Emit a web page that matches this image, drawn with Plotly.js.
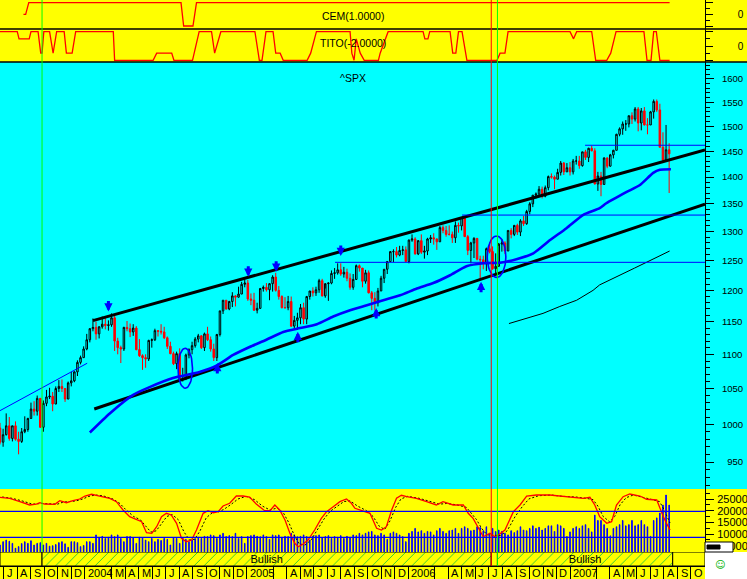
<!DOCTYPE html>
<html><head><meta charset="utf-8">
<script src="https://cdn.plot.ly/plotly-3.0.1.min.js"></script>
<style>html,body{margin:0;padding:0;background:#fff}#chart{width:747px;height:579px}</style>
</head><body><div id="chart"></div>
<script>
// ---------------- DATA ----------------
const firstWeek = '2003-06-23'; // Monday of first weekly bar
const open2003 = [995,976,986,998,981,998,980,977,990,993,1008,1021,1018,1036,996,1029,1038,1039,1028,1050,1053,1050,1035,1058,1061,1074,1088,1095];
const high2003 = [1002,994,1015,1010,998,1004,990,995,1011,1009,1030,1032,1040,1036,1033,1048,1051,1045,1053,1062,1063,1050,1060,1074,1075,1091,1098,1112];
const low2003  = [973,970,985,978,977,978,960,975,988,990,1008,1012,1012,995,990,1025,1035,1018,1028,1045,1045,1031,1035,1053,1059,1068,1085,1095];
const close2003= [976,986,998,981,998,980,977,990,993,1008,1021,1018,1036,996,1029,1038,1039,1028,1050,1053,1050,1035,1058,1061,1074,1088,1095,1108];
const open2004 = [1108,1122,1139,1141,1131,1142,1146,1144,1145,1156,1120,1110,1108,1141,1139,1134,1140,1107,1098,1095,1093,1121,1122,1136,1135,1134,1125,1112,1101,1086,1101,1063,1064,1099,1107,1113,1123,1128,1110,1131,1122,1108,1095,1130,1167,1184,1170,1182,1191,1189,1194,1210];
const high2004 = [1131,1140,1155,1150,1143,1158,1158,1152,1163,1160,1125,1113,1142,1151,1147,1146,1143,1123,1100,1100,1122,1124,1139,1137,1146,1142,1127,1119,1104,1104,1109,1080,1101,1109,1119,1126,1131,1129,1133,1142,1127,1116,1131,1167,1184,1184,1183,1197,1192,1206,1214,1218];
const low2004  = [1106,1118,1135,1122,1124,1139,1138,1136,1142,1105,1100,1087,1105,1135,1126,1128,1106,1096,1077,1080,1090,1110,1120,1127,1130,1123,1108,1100,1084,1078,1060,1060,1062,1094,1100,1110,1118,1108,1105,1120,1104,1090,1090,1127,1162,1169,1168,1173,1174,1188,1194,1205];
const close2004= [1122,1139,1141,1131,1142,1146,1144,1145,1156,1120,1110,1108,1141,1139,1134,1140,1107,1098,1095,1093,1121,1122,1136,1135,1134,1125,1112,1101,1086,1101,1063,1064,1099,1107,1113,1123,1128,1110,1131,1122,1108,1095,1130,1167,1184,1170,1182,1191,1189,1194,1210,1212];
const open2005 = [1212,1186,1184,1168,1171,1203,1205,1201,1211,1222,1200,1190,1172,1172,1182,1143,1152,1156,1172,1154,1190,1199,1196,1201,1216,1191,1211,1212,1228,1229,1234,1227,1230,1220,1205,1218,1241,1237,1215,1229,1196,1187,1180,1199,1220,1235,1248,1265,1265,1259,1267,1268];
const high2005 = [1217,1195,1196,1180,1204,1208,1212,1212,1225,1229,1207,1192,1189,1191,1190,1159,1164,1178,1180,1191,1199,1205,1206,1219,1219,1203,1213,1233,1237,1245,1245,1239,1236,1228,1227,1243,1243,1237,1234,1233,1199,1197,1204,1224,1235,1249,1266,1269,1273,1275,1275,1274];
const low2005  = [1183,1176,1167,1163,1170,1198,1198,1184,1198,1198,1185,1171,1171,1168,1142,1137,1137,1146,1146,1146,1185,1190,1191,1196,1190,1188,1183,1210,1219,1226,1224,1221,1215,1201,1201,1217,1231,1205,1211,1195,1168,1168,1174,1199,1212,1227,1248,1247,1255,1257,1259,1248];
const close2005= [1186,1184,1168,1171,1203,1205,1201,1211,1222,1200,1190,1172,1172,1182,1143,1152,1156,1172,1154,1190,1199,1196,1201,1216,1191,1211,1212,1228,1229,1234,1227,1230,1220,1205,1218,1241,1237,1215,1229,1196,1187,1180,1199,1220,1235,1248,1265,1265,1259,1267,1268,1248];
const open2006 = [1248,1285,1287,1261,1284,1264,1266,1287,1289,1287,1282,1307,1302,1295,1295,1289,1311,1310,1325,1291,1267,1280,1288,1252,1251,1244,1270,1265,1236,1240,1278,1280,1266,1302,1295,1311,1299,1319,1314,1336,1350,1366,1368,1377,1364,1380,1401,1400,1396,1409,1427,1410];
const high2006 = [1286,1295,1290,1285,1295,1275,1289,1294,1297,1288,1310,1311,1310,1311,1300,1318,1316,1326,1326,1294,1282,1290,1288,1258,1258,1272,1281,1274,1262,1280,1287,1283,1302,1306,1311,1314,1322,1328,1339,1353,1366,1371,1383,1382,1384,1403,1407,1403,1416,1431,1429,1427];
const low2006  = [1245,1282,1260,1259,1261,1253,1259,1280,1277,1268,1282,1297,1291,1293,1280,1280,1298,1302,1291,1259,1245,1254,1250,1219,1235,1232,1262,1234,1224,1240,1265,1261,1266,1288,1292,1294,1292,1310,1312,1331,1344,1360,1365,1360,1362,1375,1397,1377,1396,1403,1404,1410];
const close2006= [1285,1287,1261,1284,1264,1266,1287,1289,1287,1282,1307,1302,1295,1295,1289,1311,1310,1325,1291,1267,1280,1288,1252,1251,1244,1270,1265,1236,1240,1278,1280,1266,1302,1295,1311,1299,1319,1314,1336,1350,1366,1368,1377,1364,1380,1401,1400,1396,1409,1427,1410,1418];
const open2007 = [1418,1410,1431,1431,1422,1449,1438,1456,1451,1387,1402,1386,1437,1421,1443,1452,1484,1495,1505,1505,1522,1515,1536,1507,1532,1503,1503,1530,1552,1534,1458,1433,1453];
const high2007 = [1429,1435,1441,1441,1449,1453,1457,1461,1456,1410,1410,1438,1438,1445,1453,1485,1498,1510,1513,1522,1529,1540,1540,1538,1540,1517,1532,1556,1556,1547,1488,1503,1466];
const low2007  = [1403,1405,1424,1416,1420,1433,1429,1450,1386,1374,1364,1386,1417,1420,1436,1452,1480,1483,1491,1498,1505,1510,1490,1492,1502,1484,1503,1516,1530,1458,1427,1429,1370];
const close2007= [1410,1431,1431,1422,1449,1438,1456,1451,1387,1402,1386,1437,1421,1443,1452,1484,1495,1505,1505,1522,1515,1536,1507,1532,1503,1503,1530,1552,1534,1458,1433,1453,1445];

const vol2003 = [5300,6700,7400,6900,6000,3900,4600,5900,6700,6000,7100,5300,6000,6300,5300,6000,4800,5000,5500,6300,6700,5800,4300,6700,6700,6300,4600,5100];
const vol2004 = [6700,6700,6000,9600,8400,9000,8100,8600,9600,8900,9600,8100,6700,8900,8900,8400,6000,8600,8400,7400,6700,8100,6700,7700,7200,8100,7700,5300,8400,8100,6000,8400,7700,6700,7400,8000,8600,8100,9000,8900,9600,9300,8100,9600,10300,8900,9300,8900,10300,8100,8900,6000];
const vol2005 = [8900,9300,9600,9000,8800,9600,8900,7700,9600,9300,9600,8600,9000,8900,10300,9600,8800,9000,9600,8900,7400,9000,9300,9600,8400,8900,9300,8100,8900,8600,9300,8100,9000,8600,9600,9300,10300,9600,10300,10900,11100,9600,9300,10300,9600,7700,10300,10900,10300,9600,8900,6700];
const vol2006 = [10300,11100,12400,10900,11400,10300,11100,10900,9600,11400,12400,11100,10300,11400,11700,12400,10300,12400,13100,12400,11400,11700,13100,12800,11400,13100,10300,12400,11100,11700,11100,10300,9600,11400,10600,11400,13100,11700,11400,12400,13500,12400,12900,11700,12400,13500,13500,11100,14000,13500,12400,8900];
const vol2007 = [10900,12400,13100,12400,13500,14000,12400,10900,18100,15800,15800,14000,12400,9200,12400,13100,14000,15800,13500,14000,15800,13500,14000,15800,14000,13100,9000,15800,16900,19000,22400,26700,22400];

// moving average (thick blue)
const maDates = ['2004-01-12','2004-02-26','2004-04-19','2004-05-26','2004-07-18','2004-09-16','2004-10-24','2004-12-01','2005-01-07','2005-02-14','2005-03-24','2005-05-01','2005-06-08','2005-07-15','2005-08-22','2005-09-29','2005-11-05','2005-12-13','2006-01-20','2006-02-26','2006-04-05','2006-05-12','2006-06-19','2006-07-27','2006-09-02','2006-10-10','2006-11-17','2006-12-24','2007-01-31','2007-03-09','2007-03-24','2007-05-09','2007-06-08','2007-07-08','2007-07-23','2007-08-17'];
const maVals  = [989,1015,1041,1052,1065,1074,1083,1099,1111,1122,1134,1140,1146,1158,1168,1176,1184,1192,1203,1212,1225,1240,1245,1246,1252,1262,1285,1306,1330,1342,1351,1372,1385,1408,1414,1415];
// long average (thin black)
const lmaDates = ['2006-08-16','2006-09-25','2006-11-01','2006-12-09','2007-01-16','2007-02-22','2007-03-09','2007-05-27','2007-08-14'];
const lmaVals  = [1147,1155,1163,1174,1184,1200,1209,1237,1266];
// trend lines
const upperTrendDates = ['2004-01-19','2007-11-02'], upperTrendVals = [1151.6,1452.6];
const lowerTrendDates = ['2004-01-22','2007-11-02'], lowerTrendVals = [1021.1,1349.5];
const blueTrendDates  = ['2003-06-23','2004-01-06'], blueTrendVals  = [1018.8,1086.7];
const levelVals   = [1246.7,1329.5,1462];
const levelStarts = ['2005-07-19','2006-05-02','2007-02-04'];
const levelEnd    = '2007-11-02';
// ellipses
const ellipseX0 = ['2004-07-29','2006-06-28'], ellipseX1 = ['2004-08-31','2006-08-09'];
const ellipseLo = [1050.3,1221.4], ellipseHi = [1109,1292.1];
// arrows
const downArrowDates = ['2004-02-23','2005-01-04','2005-03-08','2005-08-01'];
const downArrowVals  = [1165.8,1222.5,1230.8,1257.4];
const upArrowDates   = ['2004-10-26','2005-04-26','2005-10-20','2006-06-14'];
const upArrowVals    = [1087,1134.3,1171.5,1214.1];

// CEM indicator
const cemDates = ['2003-08-15','2003-08-20','2003-08-27','2004-08-05','2004-08-11','2004-09-01','2004-09-09','2007-08-14'];
const cemVals  = [0,0,1,1,-1,-1,1,1];
// TITO indicator
const titoDates = ['2003-06-23','2003-08-01','2003-08-05','2003-08-28','2003-09-01','2003-09-17','2003-09-23','2003-09-26','2003-09-30','2003-10-13','2003-10-21','2003-10-29','2003-11-15','2003-11-20','2003-12-03','2003-12-11','2004-03-05','2004-03-08','2004-06-03','2004-06-11','2004-07-15','2004-07-20','2004-08-31','2004-09-15','2004-10-13','2004-10-20','2004-11-03','2005-01-19','2005-01-29','2005-02-04','2005-02-13','2005-03-01','2005-03-07','2005-03-17','2005-03-24','2005-05-17','2005-05-25','2005-06-07','2005-08-22','2005-08-26','2005-08-31','2005-09-05','2005-09-14','2005-09-23','2005-10-25','2005-10-29','2005-11-16','2006-02-03','2006-02-07','2006-02-14','2006-02-18','2006-04-05','2006-04-11','2006-04-18','2006-04-24','2006-05-02','2006-05-13','2006-07-20','2006-07-27','2006-08-07','2006-08-14','2007-01-01','2007-01-09','2007-01-16','2007-02-19','2007-02-28','2007-03-25','2007-04-03','2007-04-15','2007-06-17','2007-06-24','2007-07-03','2007-07-09','2007-07-15','2007-07-23','2007-08-14'];
const titoVals = [2,2,1,1,2,2,-1,-1,2,2,-1,2,2,-1,-1,2,2,-2,-2,-1,-1,-2,-2,2,2,-1,2,2,-2,-2,2,2,-1,-1,-2,-2,-1,2,2,-1,-2,1,-1,-2,-2,-1,2,2,1,1,2,2,-1,-1,2,2,-2,-2,-1,-1,2,2,1,2,2,-2,-2,-1,2,2,-2,-2,2,2,-2,-2];

// stochastic %K (red) and %D (black dotted)
const stochKDates = ['2003-06-23','2003-07-15','2003-08-07','2003-08-29','2003-09-13','2003-09-21','2003-10-02','2003-10-25','2003-11-05','2003-11-20','2003-12-05','2003-12-20','2004-01-01','2004-01-16','2004-02-03','2004-02-26','2004-03-12','2004-03-27','2004-04-11','2004-04-26','2004-05-08','2004-05-19','2004-05-31','2004-06-11','2004-06-22','2004-07-03','2004-07-14','2004-07-26','2004-08-06','2004-08-17','2004-08-29','2004-09-09','2004-09-24','2004-10-05','2004-10-17','2004-10-28','2004-11-08','2004-11-23','2004-12-08','2004-12-23','2005-01-07','2005-01-22','2005-02-10','2005-02-22','2005-03-05','2005-03-16','2005-03-28','2005-04-08','2005-04-19','2005-04-27','2005-05-08','2005-05-19','2005-06-03','2005-06-18','2005-06-30','2005-07-15','2005-07-30','2005-08-14','2005-08-25','2005-09-02','2005-09-21','2005-10-06','2005-10-21','2005-11-01','2005-11-12','2005-11-24','2005-12-05','2005-12-16','2005-12-28','2006-01-19','2006-02-11','2006-03-05','2006-03-20','2006-04-12','2006-05-05','2006-05-16','2006-05-27','2006-06-07','2006-06-19','2006-07-04','2006-07-15','2006-07-26','2006-08-07','2006-08-26','2006-09-10','2006-09-25','2006-10-17','2006-11-16','2006-12-09','2007-01-08','2007-01-31','2007-02-15','2007-02-26','2007-03-09','2007-03-25','2007-04-05','2007-04-16','2007-05-01','2007-05-16','2007-06-08','2007-06-23','2007-07-16','2007-07-23','2007-07-31','2007-08-07','2007-08-15'];
const stochKVals = [91.5,90,84.8,79.7,81.2,83.2,81.2,80.8,86.3,83.2,86.3,88.9,93.5,96.2,93.5,90,84.8,72,61.7,57.7,54,37.1,36.2,46.3,61.7,66.9,64.3,51.5,28.5,23.2,25.8,41.2,66.9,70.9,67.8,69.4,78.2,82.3,93.5,93.5,92,81.2,70.9,70.9,79.7,72,56.6,36.2,20.8,15.5,19.7,25.8,41.2,59.2,69.4,77.1,84.8,88.9,82.3,74.6,70.9,66.9,43.8,41.2,46.3,72,90,94.6,92.5,90,84.8,79.7,84.8,79.7,79.7,66.9,59.2,46.3,30.9,36.2,30.9,35,41.2,69.4,79.7,93.5,95.1,95.1,93.5,92.5,90,91.5,79.7,61.7,51.5,54,79.7,92.5,96.6,93.5,88.5,87.4,74.6,61.7,51.5,41.2];
const stochDDates = ['2003-06-28','2003-07-20','2003-08-12','2003-09-04','2003-09-25','2003-10-10','2003-10-31','2003-11-12','2003-11-28','2003-12-12','2003-12-27','2004-01-10','2004-01-24','2004-02-10','2004-03-04','2004-03-20','2004-04-03','2004-04-20','2004-05-05','2004-05-18','2004-05-29','2004-06-10','2004-06-22','2004-07-04','2004-07-16','2004-07-30','2004-08-12','2004-08-24','2004-09-05','2004-09-17','2004-10-01','2004-10-15','2004-10-28','2004-11-10','2004-11-25','2004-12-12','2004-12-30','2005-01-18','2005-02-05','2005-02-22','2005-03-10','2005-03-24','2005-04-06','2005-04-18','2005-04-29','2005-05-12','2005-05-26','2005-06-09','2005-06-24','2005-07-08','2005-07-24','2005-08-08','2005-08-22','2005-09-08','2005-09-28','2005-10-13','2005-10-27','2005-11-08','2005-11-20','2005-12-03','2005-12-15','2005-12-30','2006-01-25','2006-02-18','2006-03-12','2006-03-28','2006-04-20','2006-05-12','2006-05-24','2006-06-04','2006-06-15','2006-06-27','2006-07-12','2006-07-28','2006-08-12','2006-08-30','2006-09-15','2006-09-30','2006-10-22','2006-11-20','2006-12-15','2007-01-14','2007-02-06','2007-02-22','2007-03-05','2007-03-17','2007-03-31','2007-04-12','2007-04-24','2007-05-08','2007-05-24','2007-06-15','2007-06-30','2007-07-22','2007-07-30','2007-08-07','2007-08-15'];
const stochDVals = [92,90,86,81,82,82,81,84,85,86,89,93,95,94,89,82,72,62,57,47,38,40,52,62,65,57,38,26,27,40,60,68,69,73,80,89,93,88,78,72,75,68,52,33,20,18,26,42,58,70,78,85,86,78,71,62,47,42,55,76,89,93,90,85,81,82,80,76,66,57,44,34,33,33,40,62,77,89,94,95,93,92,90,88,78,62,54,62,80,91,95,92,89,85,76,64,52];
const stochLevels = [70,30];

// signal strip
const stripStarts = ['2003-06-23','2003-09-26','2006-07-07','2006-07-21','2007-08-21'];
const stripEnds   = ['2003-09-26','2006-07-07','2006-07-21','2007-08-21','2007-11-02'];
const stripText   = ['','Bullish','','Bullish',''];
// marker lines
const markerLines = [{d:'2003-09-26',c:'#00ff00',bottom:552},{d:'2006-07-07',c:'#ff0000',bottom:566},{d:'2006-07-21',c:'#00ff00',bottom:566}];

// axis ticks / labels
const priceTicks = [950,1000,1050,1100,1150,1200,1250,1300,1350,1400,1450,1500,1550,1600];
const priceTickText = ['\u2007950','1000','1050','1100','1150','1200','1250','1300','1350','1400','1450','1500','1550','1600'];
const volTicks = [5000,10000,15000,20000,25000];
const volTickText = ['\u20075000','10000','15000','20000','25000'];
const monthLabels = ['J','A','S','O','N','D','2004','','M','A','M','J','J','A','S','O','N','D','2005','','','A','M','J','J','A','S','O','N','D','2006','','','A','M','J','J','A','S','O','N','D','2007','','','A','M','J','J','A','S','O'];
const firstMonth = '2003-07-01';

// ---------------- BUILD ----------------
const open  = [].concat(open2003,open2004,open2005,open2006,open2007);
const high  = [].concat(high2003,high2004,high2005,high2006,high2007);
const low   = [].concat(low2003,low2004,low2005,low2006,low2007);
const close = [].concat(close2003,close2004,close2005,close2006,close2007);
const volume= [].concat(vol2003,vol2004,vol2005,vol2006,vol2007);
function addDays(iso,n){const d=new Date(iso+'T00:00:00Z');d.setUTCDate(d.getUTCDate()+n);return d.toISOString().slice(0,10);}
function addMonths(iso,n){const d=new Date(iso+'T00:00:00Z');d.setUTCMonth(d.getUTCMonth()+n);return d.toISOString().slice(0,10);}
const weeks = close.map((_,i)=>addDays(firstWeek,7*i));
const months = monthLabels.map((_,i)=>addMonths(firstMonth,i));
const H = 579, W = 747, PLOTW = 705;
const P = y => 1 - y/H;
const L10 = Math.log10;
const FONT = 'Liberation Sans, Arial, sans-serif';
const DAY = 86400000;

const traces = [];
// CEM
traces.push({type:'scatter',mode:'lines',x:cemDates,y:cemVals,xaxis:'x',yaxis:'y',line:{color:'#ff0000',width:1.3},hoverinfo:'skip'});
// TITO
traces.push({type:'scatter',mode:'lines',x:titoDates,y:titoVals,xaxis:'x',yaxis:'y2',line:{color:'#ff0000',width:1.3},hoverinfo:'skip'});
// candles
traces.push({type:'candlestick',x:weeks,open:open,high:high,low:low,close:close,xaxis:'x',yaxis:'y3',
  increasing:{line:{color:'#000000',width:1},fillcolor:'#00ffff'},
  decreasing:{line:{color:'#ff0000',width:1},fillcolor:'#ff0000'},whiskerwidth:0,hoverinfo:'skip'});
// trend lines
traces.push({type:'scatter',mode:'lines',x:upperTrendDates,y:upperTrendVals,xaxis:'x',yaxis:'y3',line:{color:'#000',width:3},hoverinfo:'skip'});
traces.push({type:'scatter',mode:'lines',x:lowerTrendDates,y:lowerTrendVals,xaxis:'x',yaxis:'y3',line:{color:'#000',width:3},hoverinfo:'skip'});
traces.push({type:'scatter',mode:'lines',x:blueTrendDates,y:blueTrendVals,xaxis:'x',yaxis:'y3',line:{color:'#0000ff',width:1},hoverinfo:'skip'});
traces.push({type:'scatter',mode:'lines',x:lmaDates,y:lmaVals,xaxis:'x',yaxis:'y3',line:{color:'#000',width:1},hoverinfo:'skip'});
traces.push({type:'scatter',mode:'lines',x:maDates,y:maVals,xaxis:'x',yaxis:'y3',line:{color:'#0000ff',width:2.6,shape:'spline',smoothing:0.6},hoverinfo:'skip'});
levelVals.forEach((v,i)=>traces.push({type:'scatter',mode:'lines',x:[levelStarts[i],levelEnd],y:[v,v],xaxis:'x',yaxis:'y3',line:{color:'#0000ff',width:1},hoverinfo:'skip'}));
// ellipses drawn as closed parametric curves in pixel-linear (log) space
ellipseX0.forEach((x0,i)=>{
  const t0 = Date.parse(x0), t1 = Date.parse(ellipseX1[i]);
  const cx = (t0+t1)/2, rx = (t1-t0)/2;
  const cy = (L10(ellipseLo[i])+L10(ellipseHi[i]))/2, ry = (L10(ellipseHi[i])-L10(ellipseLo[i]))/2;
  const ex = [], ey = [];
  for(let k=0;k<=48;k++){ const a = 2*Math.PI*k/48; ex.push(new Date(cx+rx*Math.cos(a)).toISOString()); ey.push(Math.pow(10, cy+ry*Math.sin(a))); }
  traces.push({type:'scatter',mode:'lines',x:ex,y:ey,xaxis:'x',yaxis:'y3',line:{color:'#0000ff',width:1.6},hoverinfo:'skip'});
});
// volume
traces.push({type:'bar',x:weeks,y:volume,xaxis:'x',yaxis:'y4',width:1.2*DAY,marker:{color:'#0000ff',line:{width:1,color:'#0000ff'}},hoverinfo:'skip'});
// stochastic
traces.push({type:'scatter',mode:'lines',x:stochDDates,y:stochDVals,xaxis:'x',yaxis:'y6',line:{color:'#000',width:1,dash:'2px,2px'},hoverinfo:'skip'});
traces.push({type:'scatter',mode:'lines',x:stochKDates,y:stochKVals,xaxis:'x',yaxis:'y6',line:{color:'#ff0000',width:1.3},hoverinfo:'skip'});
// strip
const stripMid = stripStarts.map((s,i)=>new Date((Date.parse(s)+Date.parse(stripEnds[i]))/2).toISOString());
const stripW = stripStarts.map((s,i)=>Date.parse(stripEnds[i])-Date.parse(s));
traces.push({type:'bar',x:stripMid,y:stripStarts.map(()=>1),base:0,width:stripW,xaxis:'x',yaxis:'y5',
  text:stripText,textposition:'inside',insidetextanchor:'middle',textangle:0,constraintext:'none',
  textfont:{family:FONT,size:11,color:'#000'},
  marker:{color:'#ffff00',line:{color:'#000',width:1},
    pattern:{shape:stripText.map(t=>t?'/':''),fgcolor:'#33cc33',bgcolor:'#ffff00',size:7,solidity:0.14,fillmode:'replace'}},
  hoverinfo:'skip'});

const shapes = [
  {type:'rect',xref:'paper',yref:'paper',x0:0,x1:1,y0:P(29),y1:1,fillcolor:'#ffff00',line:{width:0},layer:'below'},
  {type:'rect',xref:'paper',yref:'paper',x0:0,x1:1,y0:P(62),y1:P(29),fillcolor:'#ffff00',line:{width:0},layer:'below'},
  {type:'rect',xref:'paper',yref:'paper',x0:0,x1:1,y0:P(489),y1:P(62),fillcolor:'#00ffff',line:{width:0},layer:'below'},
  {type:'rect',xref:'paper',yref:'paper',x0:0,x1:1,y0:P(552),y1:P(489),fillcolor:'#ffff00',line:{width:0},layer:'below'},
  {type:'rect',xref:'paper',yref:'paper',x0:0,x1:PLOTW/W,y0:0,y1:P(552),fillcolor:'#ffff00',line:{width:0},layer:'below'},
  {type:'line',xref:'paper',yref:'paper',x0:0,x1:1,y0:P(29),y1:P(29),line:{color:'#000',width:1.6}},
  {type:'line',xref:'paper',yref:'paper',x0:0,x1:1,y0:P(62),y1:P(62),line:{color:'#000',width:1.6}},
];
stochLevels.forEach(v=>shapes.push({type:'line',xref:'x domain',yref:'y6',x0:0,x1:1,y0:v,y1:v,line:{color:'#0000ff',width:1.2}}));
markerLines.forEach(m=>shapes.push({type:'line',xref:'x',yref:'paper',x0:m.d,x1:m.d,y0:P(m.bottom),y1:1,line:{color:m.c,width:1}}));
// little scroll box at lower right
shapes.push({type:'rect',xref:'paper',yref:'paper',x0:705/W,x1:733/W,y0:P(552),y1:P(542),fillcolor:'#ffffff',line:{color:'#000',width:1}});
shapes.push({type:'rect',xref:'paper',yref:'paper',x0:707/W,x1:720/W,y0:P(549),y1:P(545),fillcolor:'#000',line:{color:'#000',width:1}});

const annotations = [
  {text:'CEM(1.0000)',xref:'x domain',yref:'paper',x:0.5,y:P(8),showarrow:false,font:{family:FONT,size:10.5,color:'#000'}},
  {text:'TITO(-2.0000)',xref:'x domain',yref:'paper',x:0.5,y:P(35.5),showarrow:false,font:{family:FONT,size:10.5,color:'#000'}},
  {text:'^SPX',xref:'x domain',yref:'paper',x:0.5,y:P(70),showarrow:false,font:{family:FONT,size:10.5,color:'#000'}},
  {text:'\u263a',xref:'paper',yref:'paper',x:727/W,y:P(572),showarrow:false,font:{family:'DejaVu Sans',size:10,color:'#00b000'}},
];
months.forEach((m,i)=>{ if(monthLabels[i]) annotations.push({text:monthLabels[i],xref:'x',yref:'paper',x:m,y:P(572.5),xanchor:'left',yanchor:'middle',xshift:1,showarrow:false,font:{family:FONT,size:11,color:'#000'}}); });
downArrowDates.forEach((d,i)=>annotations.push({text:'',x:d,y:L10(downArrowVals[i]),xref:'x',yref:'y3',showarrow:true,ax:0,ay:-12,arrowhead:2,arrowsize:0.55,arrowwidth:3,arrowcolor:'#0000ff',standoff:0}));
upArrowDates.forEach((d,i)=>annotations.push({text:'',x:d,y:L10(upArrowVals[i]),xref:'x',yref:'y3',showarrow:true,ax:0,ay:12,arrowhead:2,arrowsize:0.55,arrowwidth:3,arrowcolor:'#0000ff',standoff:0}));

const rightAxis = (extra) => Object.assign({side:'right',anchor:'x',showline:true,linecolor:'#000',linewidth:1,ticks:'outside',tickcolor:'#000',tickwidth:1,showgrid:false,zeroline:false,fixedrange:true,tickfont:{family:FONT,size:10,color:'#000'}},extra);
const minorPrice = [];
for(let v=920; v<=1630; v+=10){ if(v%50) minorPrice.push(v); }

const layout = {
  width:W,height:H,margin:{l:0,r:0,t:0,b:0},paper_bgcolor:'#ffffff',plot_bgcolor:'rgba(0,0,0,0)',
  showlegend:false,barmode:'overlay',dragmode:false,
  xaxis:{type:'date',domain:[0,PLOTW/W],range:['2003-06-23','2007-11-02'],anchor:'y5',showgrid:false,zeroline:false,
    showline:true,linecolor:'#000',linewidth:1,ticks:'outside',ticklen:13,tickcolor:'#000',
    tickmode:'array',tickvals:months.filter(m=>m.slice(5,7)!=='02'),showticklabels:false,rangeslider:{visible:false},fixedrange:true},
  yaxis:rightAxis({domain:[P(29),1],range:[-1.258,1.232],ticklen:7,tickvals:[-1,0,1],ticktext:['','\u2007\u2007\u20070',''],ticklabelstandoff:6,
    minor:{tickmode:'array',tickvals:[-0.5,0.5],ticks:'outside',ticklen:4,tickcolor:'#000'}}),
  yaxis2:rightAxis({domain:[P(62),P(29)],range:[-2.238,2.378],ticklen:7,tickvals:[-2,0,2],ticktext:['','\u2007\u2007\u20070',''],ticklabelstandoff:6,
    minor:{tickmode:'array',tickvals:[-1,1],ticks:'outside',ticklen:4,tickcolor:'#000'}}),
  yaxis3:rightAxis({domain:[P(489),P(62)],type:'log',range:[2.96178,3.21416],ticklen:8,tickvals:priceTicks,ticktext:priceTickText,ticklabelstandoff:6,
    tickfont:{family:FONT,size:9.5,color:'#000'},
    minor:{tickmode:'array',tickvals:minorPrice,ticks:'outside',ticklen:4,tickcolor:'#000'}}),
  yaxis4:rightAxis({domain:[P(552),P(489)],range:[2286,29286],ticklen:8,tickvals:volTicks,ticktext:volTickText,ticklabelstandoff:1,
    tickfont:{family:FONT,size:11,color:'#000'},
    minor:{tickmode:'linear',tick0:0,dtick:2500,ticks:'outside',ticklen:4,tickcolor:'#000'}}),
  yaxis5:{domain:[P(566),P(552)],range:[0,1],anchor:'x',visible:false,fixedrange:true},
  yaxis6:{overlaying:'y4',range:[7.4,104.3],anchor:'x',visible:false,fixedrange:true},
  shapes:shapes,annotations:annotations
};
Plotly.newPlot('chart',traces,layout,{displayModeBar:false,staticPlot:true});
</script></body></html>
